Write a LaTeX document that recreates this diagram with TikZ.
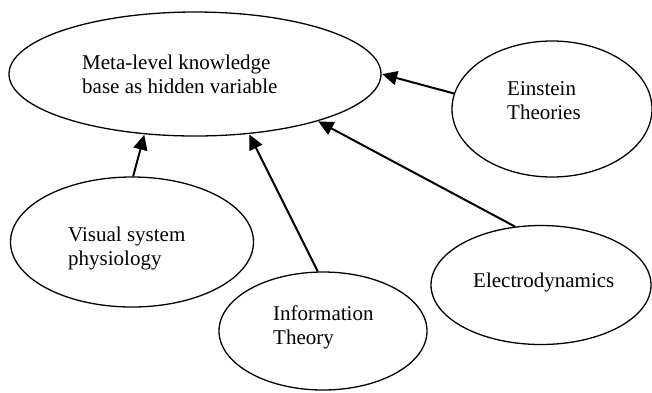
\documentclass[tikz,border=0pt]{standalone}
\usepackage{fontspec}
\setmainfont{Liberation Serif}
\usetikzlibrary{arrows.meta,shapes.geometric}
\begin{document}
\begin{tikzpicture}[x=1pt,y=-1pt,
  oval/.style={draw, ellipse, line width=1.3pt, inner sep=0pt},
  lbl/.style={anchor=base west, inner sep=0pt, font=\fontsize{21}{23.5}\selectfont, align=left},
  link/.style={line width=2pt, -{Triangle[length=15pt,width=14pt]}, shorten >=0.5pt}]
\useasboundingbox (0,0) rectangle (652,392);
\node[oval, minimum width=372pt, minimum height=124pt] (main) at (195,74) {};
\node[oval, minimum width=200pt, minimum height=136pt] (einst) at (552,109) {};
\node[oval, minimum width=243pt, minimum height=130pt] (visual) at (132,242) {};
\node[oval, minimum width=208pt, minimum height=118pt] (info) at (323,331) {};
\node[oval, minimum width=220pt, minimum height=119pt] (electro) at (541,285) {};
\node[lbl] (tmain) at (82,93) {Meta-level knowledge\\base as hidden variable};
\node[lbl] (teinst) at (507,119) {Einstein\\Theories};
\node[lbl] (tvisual) at (68,265) {Visual system\\physiology};
\node[lbl] (tinfo) at (273,344) {Information\\Theory};
\node[lbl] (telectro) at (473,287) {Electrodynamics};
\draw[link] (einst.171) -- (main.0);
\draw[link] (electro.114) -- (main.-21);
\draw[link] (info.95) -- (main.-48);
\draw[link] (visual.89) -- (main.-130);
\end{tikzpicture}
\end{document}
